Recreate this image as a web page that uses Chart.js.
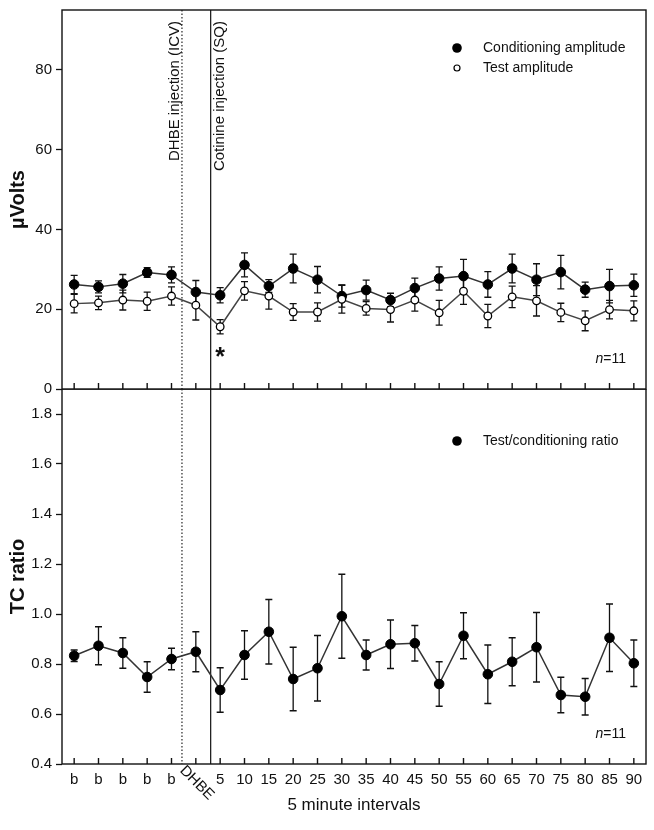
<!DOCTYPE html>
<html>
<head>
<meta charset="utf-8">
<script src="https://cdn.jsdelivr.net/npm/chart.js@4.4.1/dist/chart.umd.min.js"></script>
<style>
  html, body { margin: 0; padding: 0; background: #fff; }
  #wrap { position: relative; width: 654px; height: 830px; }
  #top { position: absolute; left: 0; top: 0; }
  #bottom { position: absolute; left: 0; top: 389px; }
</style>
</head>
<body>
<div id="wrap">
  <canvas id="top" width="654" height="400"></canvas>
  <canvas id="bottom" width="654" height="441"></canvas>
</div>
<script>
const categories = ['b', 'b', 'b', 'b', 'b', 'DHBE', '5', '10', '15', '20', '25', '30', '35', '40',
  '45', '50', '55', '60', '65', '70', '75', '80', '85', '90'];

const condMean = [26.2, 25.6, 26.4, 29.2, 28.6, 24.3, 23.5, 31.1, 25.8, 30.2, 27.4, 23.3,
  24.8, 22.3, 25.3, 27.7, 28.3, 26.2, 30.2, 27.4, 29.3, 24.9, 25.8, 26.0];
const condSem = [2.3, 1.5, 2.3, 1.2, 2.0, 2.9, 1.9, 3.0, 1.6, 3.6, 3.3, 2.8,
  2.5, 1.7, 2.5, 2.9, 4.2, 3.2, 3.6, 4.0, 4.2, 1.9, 4.2, 2.8];
const testMean = [21.4, 21.6, 22.3, 22.0, 23.3, 21.0, 15.6, 24.6, 23.3, 19.3, 19.3, 22.5,
  20.2, 19.9, 22.3, 19.1, 24.5, 18.3, 23.1, 22.1, 19.2, 17.1, 19.9, 19.6];
const testSem = [2.3, 1.7, 2.5, 2.3, 2.3, 3.7, 1.8, 2.3, 3.3, 2.1, 2.3, 3.5,
  1.7, 3.1, 2.8, 3.1, 3.3, 2.9, 2.7, 3.8, 2.3, 2.5, 2.3, 2.5];

const ratioMean = [0.833, 0.873, 0.844, 0.748, 0.820, 0.849, 0.696, 0.836, 0.929, 0.740, 0.783, 0.991,
  0.836, 0.879, 0.883, 0.720, 0.913, 0.759, 0.809, 0.867, 0.676, 0.669, 0.905, 0.803];
const ratioSem = [0.023, 0.076, 0.061, 0.061, 0.043, 0.080, 0.089, 0.097, 0.129, 0.127, 0.131, 0.168,
  0.060, 0.097, 0.071, 0.089, 0.092, 0.117, 0.096, 0.139, 0.071, 0.073, 0.135, 0.093];

const voltTicks = [0, 20, 40, 60, 80];
const ratioTicks = [0.4, 0.6, 0.8, 1.0, 1.2, 1.4, 1.6, 1.8];

// injection times, in category index units
const dhbeAt = 4.43;
const cotinineAt = 5.61;
const sigIndex = 6;

const FONT = "'Liberation Sans', Arial, sans-serif";
const INK = '#111';
Chart.defaults.font.family = FONT;
Chart.defaults.color = INK;

function drawDot(ctx, x, y, r, filled) {
  ctx.beginPath();
  ctx.arc(x, y, r, 0, Math.PI * 2);
  ctx.fillStyle = filled ? '#000' : '#fff';
  ctx.fill();
  if (!filled) { ctx.lineWidth = 1.2; ctx.strokeStyle = '#000'; ctx.stroke(); }
}

// error bars, frame, ticks, marker lines
const panelDecor = {
  id: 'panelDecor',
  beforeDatasetsDraw(chart, args, o) {
    const { ctx, chartArea: a, scales: { x, y } } = chart;
    ctx.save();
    // injection lines
    let px = x.getPixelForValue(dhbeAt);
    ctx.strokeStyle = '#444'; ctx.lineWidth = 1.4; ctx.setLineDash([1.5, 2]);
    ctx.beginPath(); ctx.moveTo(px, a.top); ctx.lineTo(px, a.bottom); ctx.stroke();
    ctx.setLineDash([]);
    px = x.getPixelForValue(cotinineAt);
    ctx.strokeStyle = '#111'; ctx.lineWidth = 1.2;
    ctx.beginPath(); ctx.moveTo(px, a.top); ctx.lineTo(px, a.bottom); ctx.stroke();

    // frame
    ctx.strokeStyle = INK; ctx.lineWidth = 1.4;
    ctx.strokeRect(a.left, a.top, a.right - a.left, a.bottom - a.top);
    // inward x ticks
    ctx.beginPath();
    categories.forEach((c, i) => {
      const tx = x.getPixelForValue(i);
      ctx.moveTo(tx, a.bottom); ctx.lineTo(tx, a.bottom - 6);
    });
    ctx.stroke();

    // error bars
    ctx.strokeStyle = '#111'; ctx.lineWidth = 1.3;
    chart.data.datasets.forEach(ds => {
      ds.data.forEach((v, i) => {
        const ex = x.getPixelForValue(i);
        const t = y.getPixelForValue(v + ds.sem[i]);
        const b = y.getPixelForValue(v - ds.sem[i]);
        ctx.beginPath();
        ctx.moveTo(ex, t); ctx.lineTo(ex, b);
        ctx.moveTo(ex - 3.5, t); ctx.lineTo(ex + 3.5, t);
        ctx.moveTo(ex - 3.5, b); ctx.lineTo(ex + 3.5, b);
        ctx.stroke();
      });
    });
    ctx.restore();
  },
  afterDraw(chart, args, o) {
    const { ctx, chartArea: a, scales: { x, y } } = chart;
    ctx.save();
    // legend
    ctx.font = '14px ' + FONT;
    ctx.fillStyle = INK;
    ctx.textBaseline = 'middle';
    ctx.textAlign = 'left';
    o.legend.forEach(item => {
      drawDot(ctx, 457, item.y, item.r, item.filled);
      ctx.fillStyle = INK;
      ctx.fillText(item.text, 483, item.y);
    });
    // n=11
    const ny = a.bottom - 30;
    ctx.font = 'italic 14px ' + FONT;
    const nw = ctx.measureText('n').width;
    ctx.font = '14px ' + FONT;
    const rest = ctx.measureText('=11').width;
    const nx = a.right - 20 - nw - rest;
    ctx.font = 'italic 14px ' + FONT;
    ctx.fillText('n', nx, ny);
    ctx.font = '14px ' + FONT;
    ctx.fillText('=11', nx + nw, ny);

    if (o.top) {
      // rotated injection labels
      ctx.font = '15px ' + FONT;
      ctx.textAlign = 'right';
      ctx.textBaseline = 'middle';
      [[x.getPixelForValue(dhbeAt) - 7, 'DHBE injection (ICV)'],
       [x.getPixelForValue(cotinineAt) + 9, 'Cotinine injection (SQ)']].forEach(([lx, txt]) => {
        ctx.save();
        ctx.translate(lx, a.top + 11);
        ctx.rotate(-Math.PI / 2);
        ctx.fillText(txt, 0, 0);
        ctx.restore();
      });
      // significance star
      ctx.font = 'bold 25px ' + FONT;
      ctx.textAlign = 'center';
      ctx.textBaseline = 'alphabetic';
      ctx.fillText('*', x.getPixelForValue(sigIndex), y.getPixelForValue(testMean[sigIndex]) + 38);
    } else {
      // rotated DHBE tick label
      ctx.font = '15px ' + FONT;
      ctx.textAlign = 'center';
      ctx.textBaseline = 'middle';
      ctx.save();
      ctx.translate(x.getPixelForValue(categories.indexOf('DHBE')) + 1, a.bottom + 19);
      ctx.rotate(Math.PI / 4);
      ctx.fillText('DHBE', 0, 0);
      ctx.restore();
    }
    ctx.restore();
  }
};

function yAxis(min, max, ticks, title, fmt) {
  return {
    min: min, max: max,
    afterBuildTicks: s => { s.ticks = ticks.map(v => ({ value: v })); },
    afterFit: s => { s.width = 62; s.paddingTop = 0; s.paddingBottom = 0; },
    border: { display: false },
    grid: { drawOnChartArea: false, tickLength: 6, tickColor: INK, tickWidth: 1.3 },
    ticks: { padding: 4, color: INK, font: { size: 15 }, callback: fmt },
    title: { display: true, text: title, color: INK, font: { size: 20, weight: 'bold' }, padding: { top: 6 } }
  };
}

new Chart(document.getElementById('top'), {
  type: 'line',
  data: {
    labels: categories,
    datasets: [{
      label: 'Test amplitude',
      data: testMean,
      sem: testSem,
      order: 1,
      borderColor: '#444',
      borderWidth: 1.5,
      pointRadius: 3.8,
      pointBackgroundColor: '#fff',
      pointBorderColor: '#000',
      pointBorderWidth: 1.3
    }, {
      label: 'Conditioning amplitude',
      data: condMean,
      sem: condSem,
      order: 2,
      borderColor: '#333',
      borderWidth: 1.5,
      pointRadius: 4.8,
      pointBackgroundColor: '#000',
      pointBorderColor: '#000',
      pointBorderWidth: 1
    }]
  },
  options: {
    responsive: false,
    animation: false,
    layout: { autoPadding: false, padding: { top: 10, right: 8, bottom: 11, left: 0 } },
    plugins: {
      legend: { display: false },
      tooltip: { enabled: false },
      panelDecor: {
        top: true,
        legend: [
          { text: 'Conditioning amplitude', y: 48, r: 4.8, filled: true },
          { text: 'Test amplitude', y: 68, r: 3, filled: false }
        ]
      }
    },
    scales: {
      x: { type: 'category', offset: true, display: false },
      y: yAxis(0, 95, voltTicks, 'µVolts', v => String(v))
    }
  },
  plugins: [panelDecor]
});

new Chart(document.getElementById('bottom'), {
  type: 'line',
  data: {
    labels: categories,
    datasets: [{
      label: 'Test/conditioning ratio',
      data: ratioMean,
      sem: ratioSem,
      borderColor: '#333',
      borderWidth: 1.5,
      pointRadius: 4.8,
      pointBackgroundColor: '#000',
      pointBorderColor: '#000',
      pointBorderWidth: 1
    }]
  },
  options: {
    responsive: false,
    animation: false,
    layout: { autoPadding: false, padding: { top: 0, right: 8, bottom: 0, left: 0 } },
    plugins: {
      legend: { display: false },
      tooltip: { enabled: false },
      panelDecor: {
        top: false,
        legend: [{ text: 'Test/conditioning ratio', y: 52, r: 4.8, filled: true }]
      }
    },
    scales: {
      x: {
        type: 'category',
        offset: true,
        afterFit: s => { s.height = 66; s.paddingLeft = 0; s.paddingRight = 0; },
        border: { display: false },
        grid: { display: true, drawOnChartArea: false, drawTicks: false },
        ticks: {
          autoSkip: false, maxRotation: 0, minRotation: 0, padding: 7,
          color: INK, font: { size: 15 },
          callback: function (v) { const l = this.getLabelForValue(v); return l === 'DHBE' ? '' : l; }
        },
        title: { display: true, text: '5 minute intervals', color: INK, font: { size: 17 }, padding: { top: 4, bottom: 14 } }
      },
      y: yAxis(0.4, 1.9, ratioTicks, 'TC ratio', v => v.toFixed(1))
    }
  },
  plugins: [panelDecor]
});
</script>
</body>
</html>
